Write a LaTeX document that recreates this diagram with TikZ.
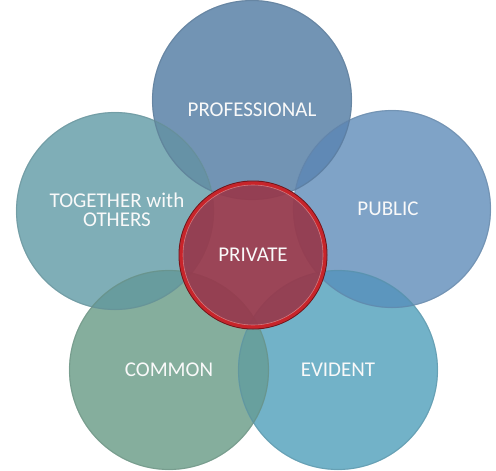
\documentclass[tikz,border=0pt]{standalone}
\usepackage{fontspec}
\setmainfont{Carlito}
\begin{document}
\begin{tikzpicture}[x=1pt,y=-1pt,
  bubble/.style={circle, inner sep=0pt, minimum size=200pt},
  label/.style={text=white!95!gray, font=\fontsize{21}{24}\selectfont, align=center},
  rim/.style={line width=1.2pt, opacity=0.45}]
\definecolor{cprof}{RGB}{114,148,180}
\definecolor{cpub}{RGB}{127,163,199}
\definecolor{ctog}{RGB}{127,174,183}
\definecolor{ccom}{RGB}{133,174,157}
\definecolor{cevi}{RGB}{114,178,200}
\definecolor{lprofpub}{RGB}{96,137,181}
\definecolor{lproftog}{RGB}{102,146,166}
\definecolor{ltogcom}{RGB}{104,156,158}
\definecolor{lcomevi}{RGB}{104,160,158}
\definecolor{levipub}{RGB}{92,150,190}
\definecolor{cpriv}{RGB}{150,59,78}
\definecolor{cring}{RGB}{200,36,42}
\definecolor{cringdark}{RGB}{120,20,24}
\useasboundingbox (0,0) rectangle (496,471);
% outer circles
\node[bubble, fill=cprof] (prof) at (252,100) {};
\node[bubble, fill=cpub, minimum size=198pt] (pub) at (392,209) {};
\node[bubble, fill=ctog, minimum size=198pt] (tog) at (115,211) {};
\node[bubble, fill=ccom] (com) at (169,370) {};
\node[bubble, fill=cevi] (evi) at (338,370) {};
% overlaps
\begin{scope}\clip (prof.center) circle (100pt); \fill[lprofpub] (pub.center) circle (99pt);\end{scope}
\begin{scope}\clip (prof.center) circle (100pt); \fill[lproftog] (tog.center) circle (99pt);\end{scope}
\begin{scope}\clip (tog.center) circle (99pt); \fill[ltogcom] (com.center) circle (100pt);\end{scope}
\begin{scope}\clip (com.center) circle (100pt); \fill[lcomevi] (evi.center) circle (100pt);\end{scope}
\begin{scope}\clip (evi.center) circle (100pt); \fill[levipub] (pub.center) circle (99pt);\end{scope}
% rims
\draw[rim, draw=cprof!80!black] (prof.center) circle (99.5pt);
\draw[rim, draw=cpub!80!black] (pub.center) circle (98.5pt);
\draw[rim, draw=ctog!80!black] (tog.center) circle (98.5pt);
\draw[rim, draw=ccom!80!black] (com.center) circle (99.5pt);
\draw[rim, draw=cevi!80!black] (evi.center) circle (99.5pt);
% private
\node[circle, inner sep=0pt, minimum size=148pt, fill=cpriv, fill opacity=0.95] (priv) at (253,255) {};
\draw[cringdark, line width=1pt] (priv.center) circle (74pt);
\draw[cring, line width=3.2pt] (priv.center) circle (71.8pt);
\draw[cring!55!white, line width=0.6pt, opacity=0.8] (priv.center) circle (70pt);
% labels
\node[label] (tprof) at (252,110) {PROFESSIONAL};
\node[label] (tpub) at (388,209) {PUBLIC};
\node[label] (ttog) at (117,210) {TOGETHER with\\[-5pt]OTHERS};
\node[label] (tpriv) at (253,255) {PRIVATE};
\node[label] (tcom) at (169,370) {COMMON};
\node[label] (tevi) at (338,370) {EVIDENT};
\end{tikzpicture}
\end{document}
